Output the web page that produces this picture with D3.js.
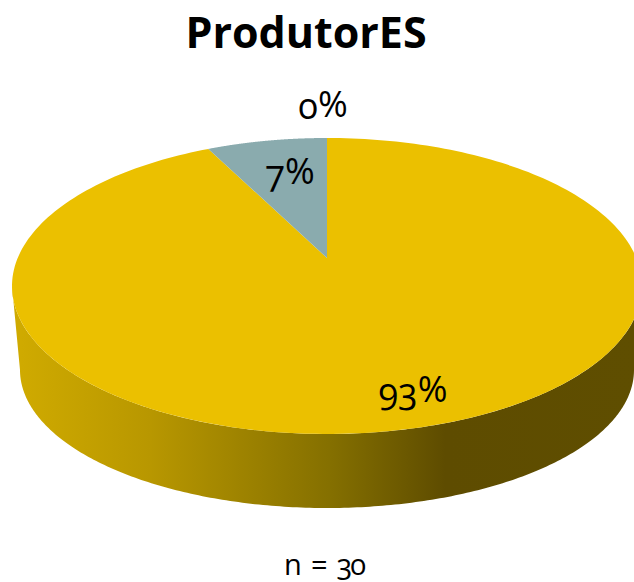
<!DOCTYPE html>
<html><head><meta charset="utf-8">
<script src="https://cdnjs.cloudflare.com/ajax/libs/d3/7.8.5/d3.min.js"></script>
<style>
html,body{margin:0;padding:0;background:#fff;overflow:hidden}
svg{display:block}
text{font-family:"Open Sans","Noto Sans",sans-serif;fill:#000;font-variant-numeric:oldstyle-nums;font-feature-settings:"onum" 1}
</style></head><body>
<svg id="c" width="634" height="582"></svg>
<script>
const title = "ProdutorES";
const note = "n = 30";
const categories = ["Sim", "Não", "Outro"];
const values = [92.6, 7.4, 0];
const labels = ["93%", "7%", "0%"];
const colors = ["#ebc000", "#8aabae", "#c0c0c0"];
const shadeStops = ["#cfaa00", "#b89700", "#857000", "#5e4c00", "#5f4e00"];

const svg = d3.select("#c");
const pie = d3.pie().sort(null).value(d => d.value);
const arcs = pie(categories.map((c, i) => ({c, value: values[i], label: labels[i], color: colors[i]})));

// Perspective projection of a unit disc onto the page
function projector(cx, apexY, topY, botY, maxHalfW) {
  const k = (2 * apexY - topY - botY) / (botY - topY);
  const B = apexY - topY * (1 - k);
  const A = maxHalfW * Math.sqrt(1 - k * k);
  const f = a => {
    const u = Math.sin(a), v = -Math.cos(a), w = 1 + k * v;
    return [cx + u * A / w, (apexY + v * B) / w];
  };
  f.rim = Math.acos(k); // angle of the widest point of the outline
  return f;
}
const topP = projector(327, 258, 138, 434, 315);
const botP = projector(327, 342, 232, 508, 307);

const line = d3.line();
const ang = d3.scaleLinear().domain([0, 1]);
function samples(a0, a1, n = 240) {
  ang.range([a0, a1]);
  return d3.range(n + 1).map(i => ang(i / n));
}

// side wall
const defs = svg.append("defs");
const xShade = d3.scaleLinear().domain([0, 1]).range([21, 636]);
const grad = defs.append("linearGradient").attr("id", "side").attr("gradientUnits", "userSpaceOnUse")
  .attr("x1", xShade(0)).attr("x2", xShade(1)).attr("y1", 0).attr("y2", 0);
grad.selectAll("stop").data(shadeStops).join("stop")
  .attr("offset", (d, i) => [0, 0.21, 0.5, 0.69, 1][i]).attr("stop-color", d => d);

const sidePts = samples(topP.rim, 2 * Math.PI - topP.rim).map(a => topP(a))
  .concat(samples(2 * Math.PI - botP.rim, botP.rim).map(a => botP(a)));
svg.append("path").attr("d", line(sidePts) + "Z").attr("fill", "url(#side)");

// top slices
svg.selectAll("path.slice").data(arcs.filter(d => d.endAngle > d.startAngle)).join("path")
  .attr("class", "slice")
  .attr("fill", d => d.data.color)
  .attr("d", d => line([[327, 258]].concat(samples(d.startAngle, d.endAngle).map(a => topP(a)))) + "Z");

// text
svg.append("text").attr("x", 306).attr("y", 47.5).attr("text-anchor", "middle")
  .attr("font-size", 43).attr("font-weight", 700).text(title);

const labelPos = [[413, 404], [290, 186], [323, 119]];
const labs = svg.selectAll("text.lab").data(arcs).join("text").attr("class", "lab")
  .attr("x", (d, i) => labelPos[i][0]).attr("y", (d, i) => labelPos[i][1])
  .attr("text-anchor", "middle").attr("font-size", 36);
labs.append("tspan").text(d => d.data.label.replace("%", ""));
labs.append("tspan").attr("dy", -2).text("%");

svg.append("text").attr("x", 325).attr("y", 575).attr("text-anchor", "middle")
  .attr("font-size", 29).attr("textLength", 82).attr("lengthAdjust", "spacing")
  .attr("word-spacing", 6).text(note);
</script>
</body></html>
